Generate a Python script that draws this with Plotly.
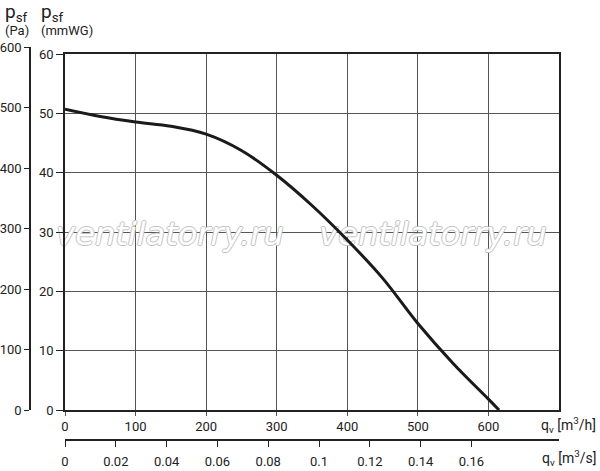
import plotly.graph_objects as go

# fan curve: airflow in m3/h, static pressure in Pa
flow_m3h = [0, 50, 100, 150, 200, 250, 300, 350, 400, 450, 500, 550, 600, 615]
pressure_pa = [497, 485, 476, 469, 456, 429, 388, 338, 281, 218, 143, 77, 18, 0]

flow_ticks = [0, 100, 200, 300, 400, 500, 600]
flow_s_ticks = [0, 0.02, 0.04, 0.06, 0.08, 0.1, 0.12, 0.14, 0.16]
flow_s_labels = ["0", "0.02", "0.04", "0.06", "0.08", "0.1", "0.12", "0.14", "0.16"]
pa_ticks = [0, 100, 200, 300, 400, 500, 600]
mmwg_ticks = [0, 10, 20, 30, 40, 50, 60]

PA_PER_MMWG = 9.80665
FLOW_MAX = 700
P_MAX = 60 * PA_PER_MMWG

# plot area in pixels (left, right, top, bottom)
L, R, T, B = 65, 559, 54, 410

fnt = dict(family="Roboto", size=13, color="#222")

fig = go.Figure()

# watermark, drawn first so the curve sits on top of it
wm_x = [(p - L) / (R - L) * FLOW_MAX for p in (170, 433)]
wm_y = [(B - 237) / (B - T) * P_MAX] * 2
fig.add_trace(go.Scatter(
    x=wm_x, y=wm_y, mode="text", text=["<i>ventilatorry.ru</i>"] * 2,
    textposition="middle center", cliponaxis=False,
    textfont=dict(family="DejaVu Sans", size=32, color="white",
                  shadow="1px 0 0 #c2c2c2, -1px 0 0 #c2c2c2, 0 1px 0 #c2c2c2, 0 -1px 0 #c2c2c2"),
    hoverinfo="skip", showlegend=False
))
fig.add_trace(go.Scatter(
    x=flow_m3h, y=pressure_pa,
    mode="lines", line=dict(color="#1a1a1a", width=3, shape="spline"),
    hoverinfo="skip", showlegend=False
))
# hidden copies so the extra axes (m3/s and Pa) get drawn
fig.add_trace(go.Scatter(
    x=[q / 3600 for q in flow_m3h], y=pressure_pa,
    xaxis="x2", yaxis="y4", mode="lines", opacity=0,
    hoverinfo="skip", showlegend=False
))
fig.add_trace(go.Scatter(
    x=flow_m3h, y=pressure_pa,
    xaxis="x3", yaxis="y3", mode="lines", opacity=0,
    hoverinfo="skip", showlegend=False
))

xdom = [(L - 31) / 528, 1]
ydom = [29 / 392, 385 / 392]
fig.update_layout(
    width=600, height=471,
    margin=dict(l=31, r=41, t=47, b=32, autoexpand=False),
    paper_bgcolor="white", plot_bgcolor="rgba(0,0,0,0)",
    font=fnt,
    xaxis=dict(
        domain=xdom, range=[0, FLOW_MAX], tickvals=flow_ticks,
        showgrid=True, gridcolor="#555", gridwidth=1,
        showline=True, linecolor="#222", linewidth=1.5, mirror=True,
        ticks="outside", ticklen=4, tickcolor="#555", zeroline=False,
        tickfont=fnt, anchor="y", automargin=False
    ),
    yaxis=dict(
        domain=ydom, range=[0, P_MAX],
        tickvals=[m * PA_PER_MMWG for m in mmwg_ticks],
        ticktext=[str(m) for m in mmwg_ticks],
        showgrid=True, gridcolor="#555", gridwidth=1,
        showline=True, linecolor="#222", linewidth=1.5, mirror=True,
        ticks="outside", ticklen=7, tickcolor="#222", zeroline=False,
        tickfont=fnt, anchor="x", automargin=False
    ),
    xaxis2=dict(
        domain=xdom, range=[0, FLOW_MAX / 3600],
        tickvals=flow_s_ticks, ticktext=flow_s_labels,
        showgrid=False, showline=True, linecolor="#222", linewidth=1.5,
        ticks="outside", ticklen=6, tickcolor="#222", zeroline=False,
        ticklabelstandoff=4, tickfont=fnt,
        anchor="y4", side="bottom", automargin=False
    ),
    yaxis4=dict(domain=[0, 1], visible=False, range=[0, 1]),
    xaxis3=dict(domain=[0, 0.05], visible=False, range=[0, 1]),
    yaxis3=dict(
        domain=[29 / 392, 1], range=[0, 600], tickvals=pa_ticks,
        showgrid=False, showline=True, linecolor="#222", linewidth=1.5,
        ticks="outside", ticklen=5, tickcolor="#222", zeroline=False,
        tickfont=fnt, anchor="x3", side="left", automargin=False
    ),
)

def px(x):
    return (x - 31) / 528

def py(y):
    return (439 - y) / 392

labels = [
    ("p<sub>sf</sub>", 3, 13, 19),
    ("(Pa)", 3, 31, 13),
    ("p<sub>sf</sub>", 39, 13, 19),
    ("(mmWG)", 39, 31, 13),
]
for txt, x, y, s in labels:
    fig.add_annotation(text=txt, x=px(x), y=py(y), xref="paper", yref="paper",
                       xanchor="left", yanchor="middle", showarrow=False,
                       font=dict(family="Roboto", size=s, color="#222"))

for txt, y in [("q<sub>v</sub> [m<sup>3</sup>/h]", 425), ("q<sub>v</sub> [m<sup>3</sup>/s]", 458)]:
    fig.add_annotation(text=txt, x=px(598), y=py(y), xref="paper", yref="paper",
                       xanchor="right", yanchor="middle", showarrow=False,
                       font=dict(family="Roboto", size=14, color="#222"))

fig.write_html("out.html", config={"displayModeBar": False},
               post_script="document.body.style.margin = '0';")
